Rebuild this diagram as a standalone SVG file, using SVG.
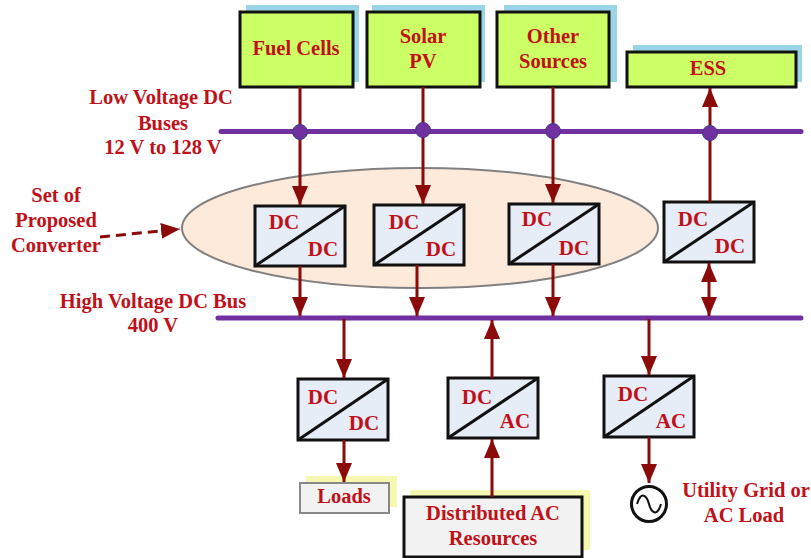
<svg xmlns="http://www.w3.org/2000/svg" width="811" height="558" viewBox="0 0 811 558">
<style>
text{font-family:"Liberation Serif","Times New Roman",serif;font-weight:bold;fill:#c01018;text-anchor:middle}
.t{font-size:20.500px}
.d{font-size:21px}
.src{fill:#ccff66;stroke:#111;stroke-width:3}
.sh{fill:#99d5e6}
.sh2{fill:#f6f8b0}
.gr{fill:#f2f2f2;stroke:#111;stroke-width:3}
.cv{fill:#e6edf7;stroke:#111;stroke-width:3}
.diag{stroke:#111;stroke-width:3}
.bus{stroke:#7030a0;stroke-width:5;stroke-linecap:round;fill:none}
.dot{fill:#7030a0;stroke:#4a3a8c;stroke-width:1}
.w{stroke:#8b0a0a;stroke-width:3;fill:none}
</style>
<defs>
<marker id="a" markerUnits="userSpaceOnUse" markerWidth="20" markerHeight="18" refX="19" refY="8" orient="auto-start-reverse"><path d="M0 0L19 8L0 16Z" fill="#8b0a0a"/></marker>
</defs>
<g id="ellipse-converters"><ellipse cx="420" cy="228" rx="238" ry="60" fill="#fdeadb" stroke="#808080" stroke-width="2"/></g>
<g id="fuel-cells"><rect class="sh" x="246" y="5" width="113" height="77"/><rect class="src" x="240" y="12" width="113" height="75"/><text class="t" x="296" y="55">Fuel Cells</text></g>
<g id="solar-pv"><rect class="sh" x="372" y="5" width="113" height="77"/><rect class="src" x="367" y="12" width="113" height="75"/><text class="t" x="423" y="43">Solar</text><text class="t" x="423" y="68">PV</text></g>
<g id="other-sources"><rect class="sh" x="504" y="5" width="113" height="77"/><rect class="src" x="497" y="12" width="112" height="75"/><text class="t" x="553" y="43">Other</text><text class="t" x="553" y="68">Sources</text></g>
<g id="ess"><rect class="sh" x="633" y="45" width="169" height="37"/><rect class="src" x="627" y="52" width="169" height="35"/><text class="t" x="708" y="75">ESS</text></g>
<g id="conv1"><rect class="cv" x="255" y="206" width="90" height="60"/><path class="diag" d="M255 266L345 206"/><text class="d" x="284" y="229">DC</text><text class="d" x="323" y="256">DC</text></g>
<g id="conv2"><rect class="cv" x="374" y="205" width="90" height="60"/><path class="diag" d="M374 265L464 205"/><text class="d" x="404" y="229">DC</text><text class="d" x="441" y="256">DC</text></g>
<g id="conv3"><rect class="cv" x="509" y="204" width="90" height="60"/><path class="diag" d="M509 264L599 204"/><text class="d" x="537" y="226">DC</text><text class="d" x="574" y="255">DC</text></g>
<g id="conv4"><rect class="cv" x="664" y="202" width="90" height="60"/><path class="diag" d="M664 262L754 202"/><text class="d" x="693" y="226">DC</text><text class="d" x="730" y="253">DC</text></g>
<g id="conv5"><rect class="cv" x="298" y="379" width="90" height="61"/><path class="diag" d="M298 440L388 379"/><text class="d" x="323" y="404">DC</text><text class="d" x="364" y="430">DC</text></g>
<g id="conv6"><rect class="cv" x="448" y="378" width="90" height="60"/><path class="diag" d="M448 438L538 378"/><text class="d" x="477" y="404">DC</text><text class="d" x="515" y="428">AC</text></g>
<g id="conv7"><rect class="cv" x="604" y="376" width="90" height="61"/><path class="diag" d="M604 437L694 376"/><text class="d" x="633" y="401">DC</text><text class="d" x="671" y="428">AC</text></g>
<g id="loads"><rect class="sh2" x="306" y="476" width="91" height="31"/><rect x="300" y="483" width="89" height="30" fill="#f2f2f2" stroke="#888" stroke-width="2"/><text class="t" x="344" y="503">Loads</text></g>
<g id="distributed-ac"><rect class="sh2" x="410" y="490" width="180" height="60"/><rect class="gr" x="404" y="497" width="178" height="60"/><text class="t" x="493" y="520">Distributed AC</text><text class="t" x="493" y="545">Resources</text></g>
<g id="utility"><circle cx="649" cy="504" r="17.500" fill="#fff" stroke="#111" stroke-width="3"/><path d="M637 504C641 490 647 496 649 504S657 518 661 504" fill="none" stroke="#111" stroke-width="2"/><text class="t" x="746" y="497">Utility Grid or</text><text class="t" x="744" y="522">AC Load</text></g>
<g id="connectors">
<path class="bus" d="M221 131.500H801M218 318H801"/>
<path class="w" d="M300 87V205" marker-end="url(#a)"/>
<path class="w" d="M423 87V204" marker-end="url(#a)"/>
<path class="w" d="M553 87V203" marker-end="url(#a)"/>
<path class="w" d="M710 202V88" marker-end="url(#a)"/>
<path class="w" d="M300 266V316" marker-end="url(#a)"/>
<path class="w" d="M417 265V316" marker-end="url(#a)"/>
<path class="w" d="M553 264V316" marker-end="url(#a)"/>
<path class="w" d="M709 263V316" marker-start="url(#a)" marker-end="url(#a)"/>
<path class="w" d="M344 319V378" marker-end="url(#a)"/>
<path class="w" d="M492 378V320" marker-end="url(#a)"/>
<path class="w" d="M649 319V375" marker-end="url(#a)"/>
<path class="w" d="M344 440V482" marker-end="url(#a)"/>
<path class="w" d="M492 497V439" marker-end="url(#a)"/>
<path class="w" d="M649 437V483" marker-end="url(#a)"/>
<path d="M100 237L180 229" stroke="#8b0a0a" stroke-width="3" stroke-dasharray="10 6" fill="none" marker-end="url(#a)"/>
<circle class="dot" cx="300" cy="132" r="7.500"/>
<circle class="dot" cx="423" cy="130" r="7.500"/>
<circle class="dot" cx="553" cy="131" r="7.500"/>
<circle class="dot" cx="710" cy="133" r="7.500"/>
</g>
<g id="labels">
<text class="t" x="161" y="104">Low Voltage DC</text><text class="t" x="163" y="130">Buses</text><text class="t" x="163" y="154">12 V to 128 V</text>
<text class="t" x="56" y="202">Set of</text><text class="t" x="56" y="227">Proposed</text><text class="t" x="56" y="252">Converter</text>
<text class="t" x="153" y="308">High Voltage DC Bus</text><text class="t" x="153" y="332">400 V</text>
</g>
</svg>
